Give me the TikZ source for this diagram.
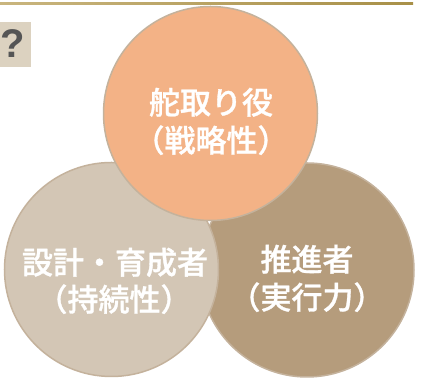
\documentclass[tikz,border=0pt]{standalone}
\usepackage{fontspec}
\setmainfont{Liberation Sans}
\newfontfamily\cjk[FakeBold=1]{Noto Sans CJK JP Medium}
\begin{document}
\begin{tikzpicture}[x=1pt,y=1pt,
  venn/.style={circle,draw=borderc,line width=1.5pt,minimum size=214pt,inner sep=0pt},
  lbl/.style={anchor=base,text=white,inner sep=0pt,font=\cjk\fontsize{31}{36}\selectfont}]
\definecolor{borderc}{HTML}{C4B29C}
\definecolor{topc}{HTML}{F3B286}
\definecolor{leftc}{HTML}{D3C6B5}
\definecolor{rightc}{HTML}{B59C7C}
\definecolor{boxc}{HTML}{DCD2C0}
\definecolor{qc}{HTML}{555555}
\definecolor{ruleA}{HTML}{C9B57E}
\definecolor{ruleB}{HTML}{8A6A14}
\definecolor{ruleC}{HTML}{A89048}
\useasboundingbox[fill=white] (0,0) rectangle (421,379);
% top rule
\shade[left color=ruleA, middle color=ruleB, right color=ruleC] (0,374.7) rectangle (413,376.6);
% question box
\node[fill=boxc,minimum width=31pt,minimum height=45pt,inner sep=0pt,anchor=north west] (qbox) at (0,357) {};
\node[text=qc,font=\bfseries\fontsize{40}{42}\selectfont,inner sep=0pt] (q) at (13,335) {?};
% circles
\node[venn,fill=rightc] (right) at (307,109) {};
\node[venn,fill=leftc] (left) at (111.5,109.5) {};
\node[venn,fill=topc] (top) at (210.5,265.5) {};
% labels
\node[lbl] (t1) at (211,265) {舵取り役};
\node[lbl] (t2) at (211,227) {（戦略性）};
\node[lbl] (l1) at (115,105) {設計・育成者};
\node[lbl] (l2) at (114,68) {（持続性）};
\node[lbl] (r1) at (307,108) {推進者};
\node[lbl] (r2) at (307,70) {（実行力）};
\end{tikzpicture}
\end{document}
